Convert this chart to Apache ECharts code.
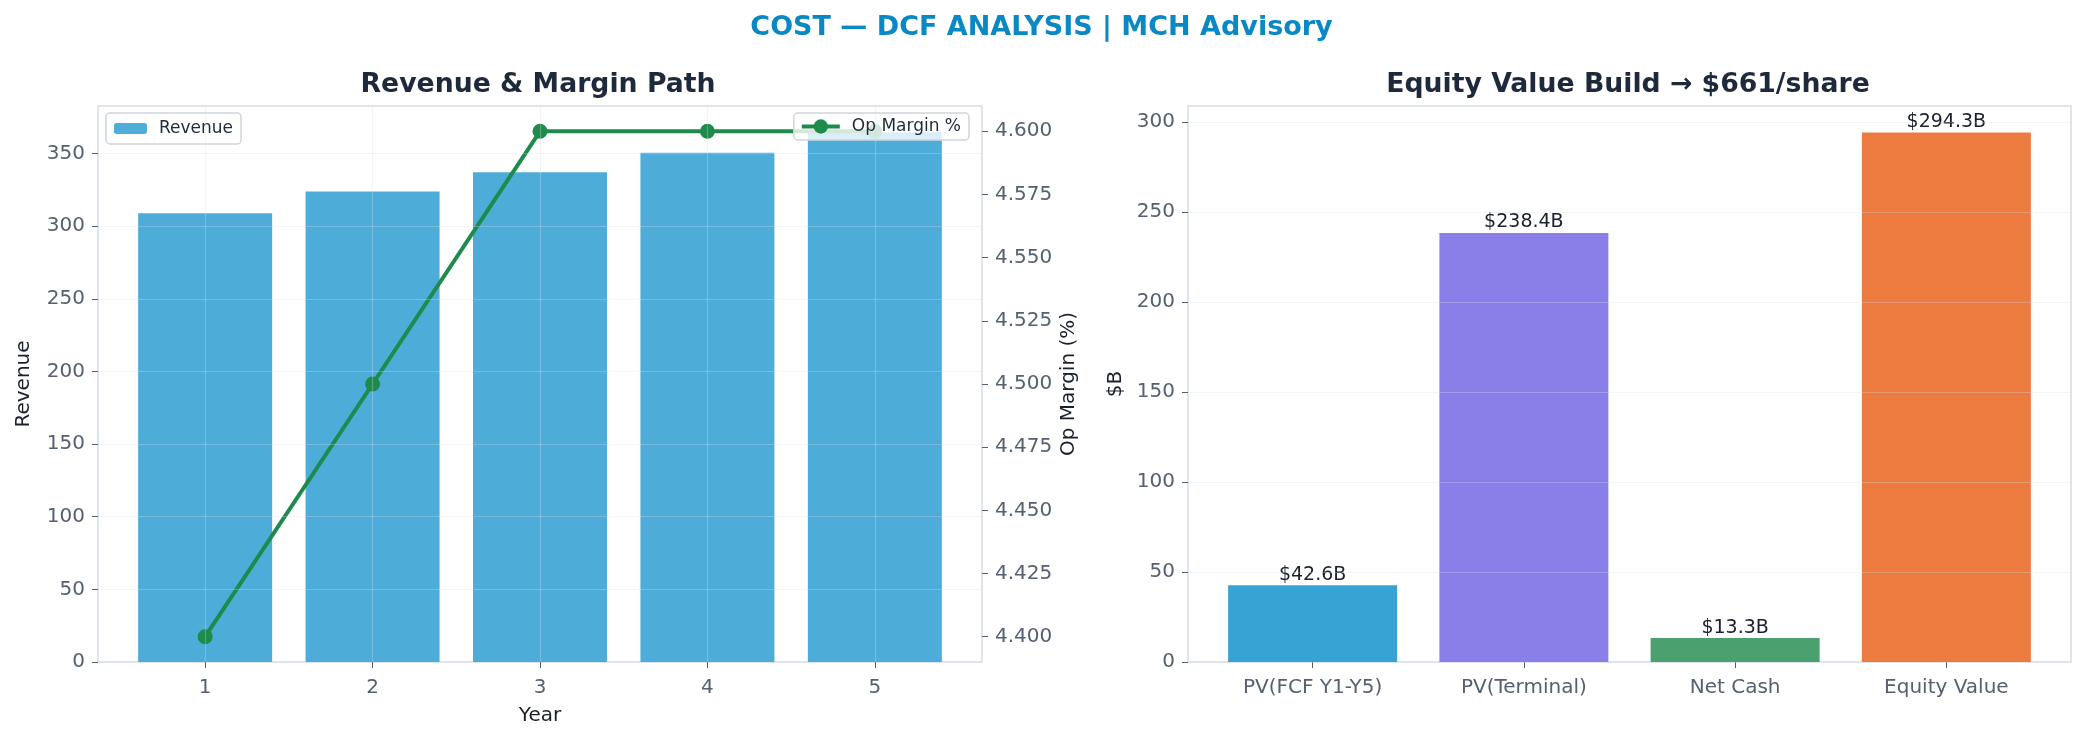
<!DOCTYPE html>
<html>
<head>
<meta charset="utf-8">
<script src="https://cdn.jsdelivr.net/npm/echarts@6/dist/echarts.min.js"></script>
<style>
  html, body { margin: 0; padding: 0; background: #ffffff; }
  #main { width: 2083px; height: 742px; }
</style>
</head>
<body>
<div id="main"></div>
<script>
// revenue & margin path
var years = [1, 2, 3, 4, 5];
var revenue = [308.8, 323.9, 337.1, 350.6, 364.6];
var opMargin = [4.4, 4.5, 4.6, 4.6, 4.6];
var revenueTicks = [0, 50, 100, 150, 200, 250, 300, 350];
var marginTicks = [4.400, 4.425, 4.450, 4.475, 4.500, 4.525, 4.550, 4.575, 4.600];

// equity value build
var buildNames = ['PV(FCF Y1-Y5)', 'PV(Terminal)', 'Net Cash', 'Equity Value'];
var buildValues = [42.6, 238.4, 13.3, 294.3];
var buildColors = ['#35A3D4', '#8A7FE8', '#4AA06E', '#ED7B3F'];
var buildTicks = [0, 50, 100, 150, 200, 250, 300];

var FONT = '"DejaVu Sans", Roboto, sans-serif';
var tickColor = '#556070';
var nameColor = '#1a202c';
var frameColor = '#d6dde6';
var gridLine = 'rgba(214,222,232,0.3)';

var chart = echarts.init(document.getElementById('main'), null, { renderer: 'canvas' });

var option = {
  backgroundColor: '#ffffff',
  textStyle: { fontFamily: FONT },
  title: [{
    text: 'COST — DCF ANALYSIS | MCH Advisory',
    left: 'center', top: 9,
    textStyle: { fontFamily: FONT, fontSize: 27, fontWeight: 'bold', color: '#0a88c4' }
  }, {
    text: 'Revenue & Margin Path',
    left: 533, top: 67, textAlign: 'center',
    textStyle: { fontFamily: FONT, fontSize: 26.7, fontWeight: 'bold', color: '#1e293b' }
  }, {
    text: 'Equity Value Build → $661/share',
    left: 1623, top: 67, textAlign: 'center',
    textStyle: { fontFamily: FONT, fontSize: 26.7, fontWeight: 'bold', color: '#1e293b' }
  }],
  legend: [{
    data: ['Revenue'],
    left: 106, top: 113,
    itemWidth: 33, itemHeight: 11, itemGap: 8,
    padding: [7, 8, 7, 8],
    backgroundColor: 'rgba(255,255,255,0.8)',
    borderColor: '#d0d5dc', borderWidth: 1.5, borderRadius: 4,
    textStyle: { fontFamily: FONT, fontSize: 17, color: '#1e293b', padding: [0, 0, 0, 7] }
  }, {
    data: ['Op Margin %'],
    right: 1114, top: 113,
    itemWidth: 38, itemHeight: 18, itemGap: 8,
    padding: [5, 8, 5, 6],
    backgroundColor: 'rgba(255,255,255,0.8)',
    borderColor: '#d0d5dc', borderWidth: 1.5, borderRadius: 4,
    lineStyle: { width: 4 },
    textStyle: { fontFamily: FONT, fontSize: 17, color: '#1e293b', padding: [0, 0, 0, 7] }
  }],
  grid: [{
    left: 98, right: 1101, top: 106, bottom: 80,
    show: true, borderColor: frameColor, borderWidth: 1.5
  }, {
    left: 1188, right: 12, top: 106, bottom: 80,
    show: true, borderColor: frameColor, borderWidth: 1.5
  }],
  xAxis: [{
    type: 'value', gridIndex: 0, min: 0.36, max: 5.64,
    name: 'Year', nameLocation: 'middle', nameGap: 44,
    nameTextStyle: { fontFamily: FONT, fontSize: 20, color: nameColor },
    axisLine: { show: false, onZero: false },
    axisTick: { show: true, length: 6, customValues: years, lineStyle: { color: tickColor } },
    axisLabel: { customValues: years, margin: 16, fontSize: 20, color: tickColor, fontFamily: FONT },
    splitLine: { show: true, lineStyle: { color: gridLine, width: 1.2 } },
    z: 5
  }, {
    type: 'value', gridIndex: 1, min: -0.59, max: 3.59,
    axisLine: { show: false, onZero: false },
    axisTick: { show: true, length: 6, customValues: [0, 1, 2, 3], lineStyle: { color: tickColor } },
    axisLabel: {
      customValues: [0, 1, 2, 3], margin: 16, fontSize: 20, color: tickColor, fontFamily: FONT,
      formatter: function (v) { return buildNames[Math.round(v)]; }
    },
    splitLine: { show: false }
  }],
  yAxis: [{
    type: 'value', gridIndex: 0, min: 0, max: 382.7,
    name: 'Revenue', nameLocation: 'middle', nameGap: 64, nameRotate: 90,
    nameTextStyle: { fontFamily: FONT, fontSize: 20, color: nameColor },
    axisLine: { show: false, onZero: false },
    axisTick: { show: true, length: 6, customValues: revenueTicks, lineStyle: { color: tickColor } },
    axisLabel: { customValues: revenueTicks, margin: 13, fontSize: 20, color: tickColor, fontFamily: FONT },
    splitLine: { show: true, lineStyle: { color: gridLine, width: 1.2 } },
    z: 5
  }, {
    type: 'value', gridIndex: 0, position: 'right', min: 4.39, max: 4.61,
    name: 'Op Margin (%)', nameLocation: 'middle', nameGap: 77, nameRotate: 90,
    nameTextStyle: { fontFamily: FONT, fontSize: 20, color: nameColor },
    axisLine: { show: false, onZero: false },
    axisTick: { show: true, length: 6, customValues: marginTicks, lineStyle: { color: tickColor } },
    axisLabel: {
      customValues: marginTicks, margin: 13, fontSize: 20, color: tickColor, fontFamily: FONT,
      formatter: function (v) { return v.toFixed(3); }
    },
    splitLine: { show: false }
  }, {
    type: 'value', gridIndex: 1, min: 0, max: 309,
    name: '$B', nameLocation: 'middle', nameGap: 62, nameRotate: 90,
    nameTextStyle: { fontFamily: FONT, fontSize: 20, color: nameColor },
    axisLine: { show: false, onZero: false },
    axisTick: { show: true, length: 6, customValues: buildTicks, lineStyle: { color: tickColor } },
    axisLabel: { customValues: buildTicks, margin: 13, fontSize: 20, color: tickColor, fontFamily: FONT },
    splitLine: { show: true, lineStyle: { color: gridLine, width: 1.2 } },
    z: 5
  }],
  series: [{
    name: 'Revenue', type: 'bar', xAxisIndex: 0, yAxisIndex: 0,
    data: years.map(function (y, i) { return [y, revenue[i]]; }),
    barWidth: 134,
    itemStyle: { color: '#4EACD9' }
  }, {
    name: 'Op Margin %', type: 'line', xAxisIndex: 0, yAxisIndex: 1,
    data: years.map(function (y, i) { return [y, opMargin[i]]; }),
    symbol: 'circle', symbolSize: 15,
    lineStyle: { color: '#1E8A4C', width: 4 },
    itemStyle: { color: '#1E8A4C' },
    z: 3
  }, {
    name: 'Build', type: 'bar', xAxisIndex: 1, yAxisIndex: 2,
    data: buildValues.map(function (v, i) {
      return { value: [i, v], itemStyle: { color: buildColors[i] } };
    }),
    barWidth: 169,
    label: {
      show: true, position: 'top', distance: 1,
      fontFamily: FONT, fontSize: 19, color: '#1a202c',
      formatter: function (p) { return '$' + p.value[1].toFixed(1) + 'B'; }
    }
  }]
};

chart.setOption(option);
</script>
</body>
</html>
